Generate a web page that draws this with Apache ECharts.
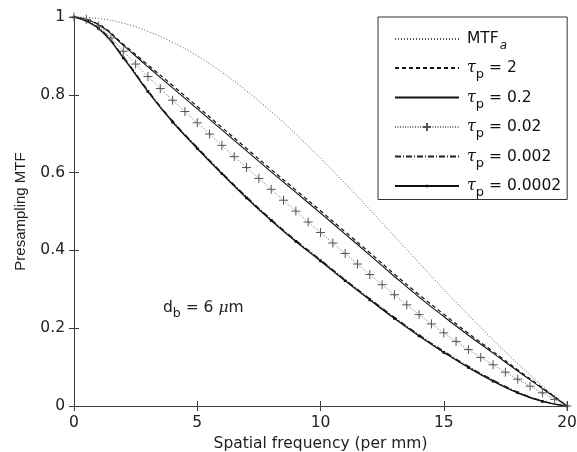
<!DOCTYPE html>
<html lang="en">
<head>
    <meta charset="UTF-8">
    <title>Presampling MTF</title>
    <script src="https://cdn.jsdelivr.net/npm/echarts@6/dist/echarts.min.js"></script>
    <style>
        html, body { margin: 0; padding: 0; background: #fff; }
        #chart { width: 577px; height: 452px; }
    </style>
</head>
<body>
    <div id="chart"></div>
    <script>
        // spatial frequency (per mm), whole steps
        var freq = [0, 1, 2, 3, 4, 5, 6, 7, 8, 9, 10, 11, 12, 13, 14, 15, 16, 17, 18, 19, 20];
        // half steps, used by the marked tau_p = 0.02 curve
        var freqHalf = [0, 0.5, 1, 1.5, 2, 2.5, 3, 3.5, 4, 4.5, 5, 5.5, 6, 6.5, 7, 7.5, 8, 8.5, 9, 9.5, 10,
            10.5, 11, 11.5, 12, 12.5, 13, 13.5, 14, 14.5, 15, 15.5, 16, 16.5, 17, 17.5, 18, 18.5, 19, 19.5, 20];

        var mtfA = [1, 0.996, 0.984, 0.963, 0.935, 0.900, 0.858, 0.810, 0.757, 0.699, 0.637,
            0.572, 0.505, 0.436, 0.368, 0.300, 0.234, 0.170, 0.109, 0.052, 0];
        var tau2 = [1, 0.981, 0.930, 0.877, 0.824, 0.770, 0.716, 0.662, 0.608, 0.555, 0.502,
            0.448, 0.394, 0.339, 0.286, 0.236, 0.187, 0.140, 0.093, 0.047, 0];
        var tau02 = [1, 0.980, 0.927, 0.872, 0.818, 0.764, 0.710, 0.656, 0.602, 0.549, 0.496,
            0.442, 0.388, 0.333, 0.280, 0.230, 0.182, 0.136, 0.090, 0.045, 0];
        var tau002 = [1, 0.994, 0.977, 0.946, 0.912, 0.879, 0.847, 0.816, 0.786, 0.757, 0.728,
            0.699, 0.670, 0.641, 0.613, 0.585, 0.557, 0.529, 0.501, 0.473, 0.446,
            0.419, 0.392, 0.365, 0.338, 0.312, 0.286, 0.260, 0.235, 0.211, 0.188,
            0.166, 0.145, 0.125, 0.106, 0.087, 0.069, 0.051, 0.034, 0.017, 0];
        var tau0002 = [1, 0.972, 0.898, 0.811, 0.733, 0.665, 0.600, 0.538, 0.480, 0.426, 0.376,
            0.325, 0.276, 0.228, 0.183, 0.141, 0.102, 0.067, 0.036, 0.013, 0];
        var tau00002 = [1, 0.970, 0.895, 0.808, 0.730, 0.662, 0.597, 0.535, 0.477, 0.423, 0.373,
            0.322, 0.273, 0.225, 0.180, 0.138, 0.099, 0.064, 0.034, 0.012, 0];

        var labels = {
            mtfA: '{m|MTF}{ms|a}',
            tau2: '{t|τ}{s|p}{m| = 2}',
            tau02: '{t|τ}{s|p}{m| = 0.2}',
            tau002: '{t|τ}{s|p}{m| = 0.02}',
            tau0002: '{t|τ}{s|p}{m| = 0.002}',
            tau00002: '{t|τ}{s|p}{m| = 0.0002}'
        };

        function pairs(xs, ys) {
            return xs.map(function (x, i) { return [x, ys[i]]; });
        }

        var axisColor = '#3c3c3c';
        var font = 'DejaVu Sans, sans-serif';
        var greek = 'DejaVu Serif, serif';

        // plus marker and a small dot (the long zero-area strokes only set the box)
        var plusPath = 'path://M5,0 L5,10 M0,5 L10,5';
        var dotPath = 'path://M0,5 L10,5 M5,0 L5,10 M3.5,3.5 L6.5,3.5 L6.5,6.5 L3.5,6.5 Z';

        var myChart = echarts.init(document.getElementById('chart'));

        var option = {
            animation: false,
            backgroundColor: '#fff',
            grid: { left: 74, right: 10, top: 17, bottom: 46, outerBoundsMode: 'none' },
            legend: {
                data: [
                    { name: 'mtfA', itemStyle: { opacity: 0 } },
                    { name: 'tau2', itemStyle: { opacity: 0 } },
                    { name: 'tau02', itemStyle: { opacity: 0 } },
                    { name: 'tau002' },
                    { name: 'tau0002', itemStyle: { opacity: 0 } },
                    { name: 'tau00002' }
                ],
                orient: 'vertical',
                left: 378,
                top: 17,
                padding: [14, 6, 0, 16],
                itemGap: 8,
                itemWidth: 64,
                itemHeight: 10,
                backgroundColor: '#fff',
                borderColor: '#333',
                borderWidth: 1,
                borderRadius: 0,
                formatter: function (name) { return labels[name]; },
                textStyle: {
                    color: '#111',
                    padding: [0, 0, 0, 3],
                    rich: {
                        m: { fontSize: 15.5, fontFamily: font, color: '#111' },
                        ms: { fontSize: 12, fontFamily: font, fontStyle: 'italic', color: '#111', padding: [14, 0, 0, 1] },
                        t: { fontSize: 16, fontFamily: greek, fontStyle: 'italic', color: '#111' },
                        s: { fontSize: 13, fontFamily: font, color: '#111', padding: [14, 0, 0, 0] }
                    }
                }
            },
            xAxis: [{
                type: 'value',
                min: 0, max: 20, interval: 5,
                name: 'Spatial frequency (per mm)',
                nameLocation: 'middle',
                nameGap: 23,
                nameTextStyle: { fontSize: 15.5, fontFamily: font, color: '#222' },
                axisLine: { lineStyle: { color: axisColor, width: 1 } },
                axisTick: { inside: true, length: 5, lineStyle: { color: axisColor } },
                axisLabel: { fontSize: 15.5, fontFamily: font, color: '#222', margin: 9 },
                splitLine: { show: false }
            }, {
                type: 'value', position: 'top',
                min: 0, max: 20, interval: 5,
                axisLine: { show: true, lineStyle: { color: axisColor, width: 1 } },
                axisTick: { show: true, inside: true, length: 5, lineStyle: { color: axisColor } },
                axisLabel: { show: false },
                splitLine: { show: false }
            }],
            yAxis: [{
                type: 'value',
                min: 0, max: 1, interval: 0.2,
                name: 'Presampling MTF',
                nameLocation: 'middle',
                nameGap: 46,
                nameTextStyle: { fontSize: 15, fontFamily: 'Liberation Sans, Arial, sans-serif', color: '#222' },
                axisLine: { show: true, lineStyle: { color: axisColor, width: 1 } },
                axisTick: { show: true, inside: true, length: 5, lineStyle: { color: axisColor } },
                axisLabel: {
                    fontSize: 15.5, fontFamily: font, color: '#222', margin: 9,
                    formatter: function (v) { return String(+v.toFixed(1)); }
                },
                splitLine: { show: false }
            }, {
                type: 'value', position: 'right',
                min: 0, max: 1, interval: 0.2,
                axisLine: { show: true, lineStyle: { color: axisColor, width: 1 } },
                axisTick: { show: true, inside: true, length: 5, lineStyle: { color: axisColor } },
                axisLabel: { show: false },
                splitLine: { show: false }
            }],
            graphic: [{
                type: 'text',
                left: 163,
                top: 300,
                style: {
                    text: '{m|d}{s|b}{m| = 6 }{g|μ}{m|m}',
                    rich: {
                        m: { fontSize: 15.5, fontFamily: font, fill: '#222' },
                        s: { fontSize: 12.5, fontFamily: font, fill: '#222', padding: [12, 0, 0, 0] },
                        g: { fontSize: 15.5, fontFamily: greek, fontStyle: 'italic', fill: '#222' }
                    }
                }
            }],
            series: [
                {
                    name: 'mtfA', type: 'line', smooth: true, symbol: 'none',
                    data: pairs(freq, mtfA),
                    lineStyle: { color: '#555', width: 1, type: [1, 2] },
                    itemStyle: { color: '#555' }, z: 2
                },
                {
                    name: 'tau2', type: 'line', smooth: true, symbol: 'none',
                    data: pairs(freq, tau2),
                    lineStyle: { color: '#111', width: 1.2, type: [4, 3] },
                    itemStyle: { color: '#111' }, z: 3
                },
                {
                    name: 'tau02', type: 'line', smooth: true, symbol: 'none',
                    data: pairs(freq, tau02),
                    lineStyle: { color: '#111', width: 1.1 },
                    itemStyle: { color: '#111' }, z: 3
                },
                {
                    name: 'tau002', type: 'line', smooth: true,
                    symbol: plusPath, symbolSize: 9, showAllSymbol: true,
                    data: pairs(freqHalf, tau002),
                    lineStyle: { color: '#777', width: 1, type: [1, 1.5] },
                    itemStyle: { color: 'none', borderColor: '#555', borderWidth: 1 }, z: 4
                },
                {
                    name: 'tau0002', type: 'line', smooth: true, symbol: 'none',
                    data: pairs(freq, tau0002),
                    lineStyle: { color: '#222', width: 1.2, type: [6, 2, 1, 2] },
                    itemStyle: { color: '#222' }, z: 3
                },
                {
                    name: 'tau00002', type: 'line', smooth: true,
                    symbol: dotPath, symbolSize: 9, showAllSymbol: true,
                    data: pairs(freq, tau00002),
                    lineStyle: { color: '#111', width: 1.4 },
                    itemStyle: { color: '#111', borderWidth: 0 }, z: 3
                }
            ]
        };

        myChart.setOption(option);
    </script>
</body>
</html>
